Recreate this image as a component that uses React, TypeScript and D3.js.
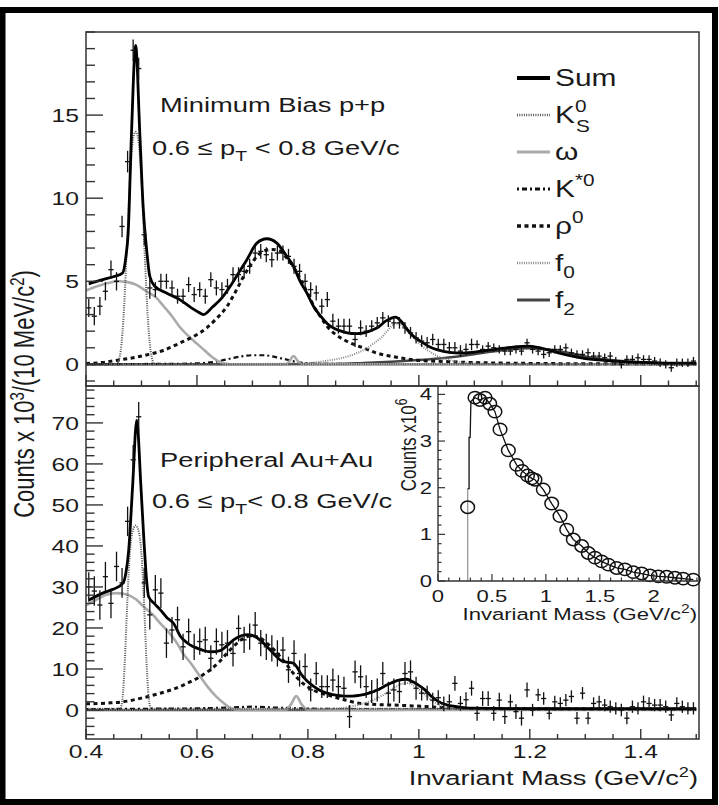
import React from 'react';
import * as d3 from 'd3';

// ---------- DATA ----------
const binStart = 0.4;
const binWidth = 0.01;

// Minimum bias p+p, counts x10^3 per 10 MeV bin (bin centres 0.405 ... 1.495)
const ppCounts = [
  3.4, 2.9, 3.5, 4.4, 5.7, 5.0, 8.3, 12.2, 18.9, 17.8,
  7.8, 4.6, 4.5, 5.0, 5.0, 4.6, 4.1, 4.1, 4.8, 4.2,
  4.5, 4.1, 5.1, 4.6, 4.5, 4.7, 5.4, 5.4, 5.6, 5.9,
  6.7, 6.8, 6.6, 6.3, 6.7, 6.7, 6.5, 5.9, 5.6, 5.0,
  4.5, 4.3, 3.5, 3.9, 2.6, 2.3, 2.3, 2.3, 1.5, 2.2,
  2.0, 2.3, 2.5, 2.8, 2.6, 2.5, 2.5, 2.2, 1.9, 1.6,
  1.4, 1.3, 1.5, 1.2, 1.2, 1.0, 1.0, 0.8, 0.9, 1.2,
  1.2, 0.9, 1.1, 1.0, 0.9, 0.8, 0.8, 0.9, 0.8, 1.3,
  0.9, 0.8, 0.6, 0.7, 0.9, 0.9, 1.0, 0.7, 0.6, 0.6,
  0.7, 0.5, 0.5, 0.4, 0.5, 0.2, 0.0, 0.3, 0.3, 0.4,
  0.3, 0.3, 0.2, 0.1, 0.0, -0.2, 0.1, 0.1, 0.1, 0.2,
];
// Peripheral Au+Au
const auCounts = [
  30.0, 29.0, 25.6, 32.5, 26.0, 35.0, 31.0, 46.0, 61.0, 71.5,
  31.0, 23.2, 29.3, 28.5, 16.3, 19.5, 22.0, 15.4, 19.1, 15.4,
  16.7, 17.1, 12.6, 16.7, 15.9, 16.3, 13.8, 19.9, 17.1, 17.9,
  20.7, 16.3, 15.4, 15.0, 13.8, 14.6, 9.8, 13.8, 8.9, 10.6,
  4.9, 8.9, 5.7, 5.7, 7.3, 5.7, 5.3, -1.6, 9.3, 8.1,
  5.7, 4.5, 4.9, 8.9, 4.1, 4.9, 4.5, 8.9, 9.3, 5.3,
  4.1, 4.1, 2.4, 3.0, 1.5, 2.0, 6.5, 1.6, 2.5, 5.3,
  -0.8, 2.8, 2.8, -0.8, 2.4, -1.6, 2.0, -0.4, -2.0, 4.9,
  0.0, 3.7, 2.8, -0.8, 2.0, 1.6, 2.4, 3.3, -2.0, 4.1,
  -2.0, 1.6, 2.0, 1.2, 0.8, 0.4, 0.0, -2.0, 0.8, 0.4,
  2.0, 1.6, 1.2, 1.2, 0.8, -1.2, 1.6, 0.8, 0.4, 0.4,
];
// [mass from which it applies, error]
const ppErrors = [[0.4, 0.55], [0.46, 0.65], [0.52, 0.45], [0.9, 0.35], [1.1, 0.25]];
const auErrors = [[0.4, 3.6], [0.55, 3.2], [0.8, 2.8], [1.0, 1.8], [1.2, 1.5]];

// fit components, p+p
const ppSum = [[0.405,4.85],[0.43,5.1],[0.452,5.3],[0.466,5.5],[0.472,6.5],[0.476,7.9],[0.482,13.9],[0.4895,19.2],[0.497,13.9],[0.503,9.5],[0.509,7.0],[0.515,5.3],[0.524,4.7],[0.545,4.3],[0.569,3.9],[0.59,3.4],[0.605,3.1],[0.612,3.0],[0.628,3.45],[0.645,4.0],[0.66,4.7],[0.675,5.5],[0.69,6.3],[0.708,7.3],[0.726,7.56],[0.744,7.3],[0.76,6.6],[0.774,5.9],[0.786,5.0],[0.798,4.3],[0.81,3.5],[0.823,2.9],[0.835,2.45],[0.847,2.18],[0.86,2.0],[0.871,1.9],[0.886,1.85],[0.901,1.9],[0.915,2.05],[0.925,2.2],[0.94,2.6],[0.958,2.85],[0.968,2.6],[0.979,2.1],[0.99,1.7],[1.004,1.37],[1.02,1.05],[1.034,0.87],[1.055,0.72],[1.076,0.68],[1.1,0.74],[1.13,0.87],[1.165,1.02],[1.197,1.1],[1.215,1.02],[1.233,0.87],[1.257,0.65],[1.281,0.47],[1.3,0.35],[1.324,0.27],[1.366,0.17],[1.414,0.11],[1.45,0.08],[1.5,0.07]];
const ppK0s = [[0.4,0],[0.455,0.02],[0.461,0.5],[0.467,2.5],[0.473,6.5],[0.479,11],[0.485,13.6],[0.4895,14],[0.494,13.6],[0.5,11],[0.506,6.5],[0.512,2.5],[0.518,0.5],[0.524,0.02],[1.5,0]];
const ppOmega = [[0.4,4.45],[0.42,4.7],[0.44,4.9],[0.458,5.0],[0.475,4.95],[0.49,4.8],[0.509,4.4],[0.527,4.0],[0.54,3.5],[0.555,2.9],[0.569,2.25],[0.585,1.7],[0.6,1.25],[0.615,0.8],[0.629,0.4],[0.641,0.15],[0.652,0.03],[0.66,0],[0.76,0],[0.766,0.15],[0.774,0.5],[0.782,0.2],[0.79,0],[1.5,0]];
const ppKstar = [[0.4,0.02],[0.55,0.03],[0.6,0.06],[0.64,0.2],[0.67,0.42],[0.7,0.55],[0.72,0.55],[0.75,0.38],[0.78,0.15],[0.81,0.05],[0.9,0.02],[1.5,0]];
const ppRho = [[0.4,0.05],[0.43,0.12],[0.46,0.27],[0.485,0.4],[0.509,0.57],[0.54,0.85],[0.569,1.28],[0.595,1.7],[0.617,2.18],[0.635,2.75],[0.654,3.48],[0.67,4.4],[0.684,5.29],[0.696,5.95],[0.708,6.49],[0.72,6.82],[0.735,6.92],[0.748,6.85],[0.762,6.4],[0.775,5.8],[0.787,5.09],[0.8,4.25],[0.811,3.48],[0.823,2.85],[0.835,2.28],[0.85,1.8],[0.865,1.48],[0.883,1.2],[0.901,0.98],[0.925,0.67],[0.945,0.52],[0.965,0.4],[0.99,0.27],[1.05,0.17],[1.1,0.11],[1.17,0.07],[1.3,0.04],[1.5,0.03]];
const ppF0 = [[0.4,0],[0.75,0],[0.8,0.08],[0.84,0.25],[0.871,0.47],[0.89,0.7],[0.907,0.98],[0.92,1.3],[0.932,1.6],[0.944,2.05],[0.956,2.42],[0.964,2.45],[0.974,2.2],[0.983,1.9],[0.992,1.55],[1.005,1.12],[1.022,0.72],[1.037,0.45],[1.052,0.3],[1.07,0.15],[1.09,0.07],[1.15,0.02],[1.5,0]];
const ppF2 = [[0.4,0],[0.85,0.02],[0.9,0.08],[0.95,0.16],[1.0,0.26],[1.05,0.4],[1.1,0.62],[1.15,0.86],[1.2,0.98],[1.25,0.82],[1.3,0.48],[1.35,0.24],[1.4,0.12],[1.45,0.07],[1.5,0.05]];

// fit components, Au+Au
const auSum = [[0.405,26.8],[0.43,28.5],[0.45,29.5],[0.467,31.0],[0.472,33.5],[0.477,39],[0.484,54.5],[0.4915,70.7],[0.499,54.5],[0.505,40],[0.509,32],[0.513,27.6],[0.523,26.0],[0.534,24.4],[0.546,22.5],[0.558,21.1],[0.57,18.0],[0.582,16.4],[0.594,15.4],[0.61,14.6],[0.624,14.2],[0.642,14.5],[0.655,15.8],[0.666,17.1],[0.68,18.1],[0.692,18.4],[0.705,17.9],[0.716,16.8],[0.728,15.2],[0.74,13.5],[0.752,12.0],[0.765,11.6],[0.774,11.4],[0.78,10.5],[0.787,8.9],[0.799,7.0],[0.811,5.7],[0.823,4.7],[0.835,4.1],[0.85,3.6],[0.865,3.4],[0.88,3.4],[0.895,3.6],[0.91,4.1],[0.925,4.9],[0.944,6.2],[0.962,7.2],[0.978,7.5],[0.99,6.8],[1.0,6.0],[1.011,4.9],[1.023,3.3],[1.035,2.1],[1.047,1.4],[1.059,1.0],[1.08,0.6],[1.1,0.45],[1.2,0.3],[1.5,0.3]];
const auK0s = [[0.4,0.3],[0.458,0.3],[0.462,0.4],[0.466,3],[0.47,12],[0.474,25],[0.478,36],[0.483,43],[0.4895,45],[0.496,43],[0.501,36],[0.505,25],[0.509,12],[0.513,3],[0.517,0.4],[0.522,0.3],[1.5,0.3]];
const auOmega = [[0.4,25.5],[0.42,27.0],[0.44,28.2],[0.455,28.5],[0.47,28.3],[0.49,27.0],[0.504,25.2],[0.52,23.3],[0.534,21.1],[0.55,18.8],[0.564,16.3],[0.575,13.8],[0.589,11.4],[0.604,8.5],[0.619,5.7],[0.634,3.4],[0.649,1.6],[0.66,0.5],[0.67,0.1],[0.68,0],[0.76,0],[0.77,1.5],[0.779,3.4],[0.788,1.5],[0.8,0],[1.5,0]];
const auKstar = [[0.4,0.2],[0.5,0.3],[0.6,0.4],[0.66,0.6],[0.7,0.8],[0.74,0.6],[0.8,0.35],[0.9,0.2],[1.0,0.15],[1.5,0.05]];
const auRho = [[0.4,1.5],[0.44,1.7],[0.467,2.0],[0.5,2.9],[0.534,4.1],[0.56,5.2],[0.582,6.5],[0.604,8.0],[0.624,9.8],[0.64,11.7],[0.654,13.8],[0.67,16.0],[0.684,17.5],[0.697,18.1],[0.71,17.8],[0.726,16.3],[0.738,14.8],[0.75,13.0],[0.762,11.0],[0.774,8.9],[0.786,7.1],[0.799,5.7],[0.817,4.4],[0.835,3.7],[0.865,2.5],[0.895,1.6],[0.93,1.3],[0.955,1.2],[0.99,1.0],[1.03,0.7],[1.07,0.45],[1.15,0.3],[1.5,0.2]];
const auF0 = [[0.4,0],[0.8,0],[0.85,0.3],[0.88,0.9],[0.91,2.0],[0.935,3.6],[0.955,5.4],[0.97,6.4],[0.98,6.6],[0.99,6.0],[1.0,5.0],[1.012,3.6],[1.025,2.2],[1.04,1.1],[1.06,0.4],[1.09,0.1],[1.15,0],[1.5,0]];
const auF2 = [[0.4,0],[0.9,0],[1.0,0.1],[1.1,0.25],[1.2,0.3],[1.3,0.2],[1.5,0.1]];

// inset: counts x10^6 vs invariant mass
const insetMass = [0.275,0.343,0.389,0.436,0.48,0.528,0.575,0.652,0.729,0.78,0.83,0.87,0.899,0.976,1.054,1.131,1.193,1.254,1.332,1.393,1.455,1.517,1.579,1.656,1.733,1.81,1.888,1.965,2.042,2.119,2.196,2.273,2.366];
const insetCounts = [1.58,3.93,3.88,3.93,3.8,3.63,3.25,2.8,2.49,2.36,2.26,2.2,2.17,1.96,1.66,1.39,1.1,0.89,0.75,0.6,0.5,0.42,0.35,0.28,0.25,0.19,0.16,0.12,0.1,0.09,0.07,0.05,0.03];
const insetEdge = [[0.275,1.98],[0.288,1.98],[0.288,3.08],[0.298,3.08],[0.305,3.85],[0.343,3.93]];

// ticks & labels
const xTicks = [0.4, 0.6, 0.8, 1.0, 1.2, 1.4];
const xTickLabels = ['0.4', '0.6', '0.8', '1', '1.2', '1.4'];
const ppYTicks = [0, 5, 10, 15];
const auYTicks = [0, 10, 20, 30, 40, 50, 60, 70];
const insetXTicks = [0, 0.5, 1, 1.5, 2];
const insetXLabels = ['0', '0.5', '1', '1.5', '2'];
const insetYTicks = [0, 1, 2, 3, 4];
const legendKeys = ['sum', 'k0s', 'omega', 'kstar', 'rho', 'f0', 'f2'];

// ---------- STYLE ----------
const FONT = "'Liberation Sans', Arial, Helvetica, sans-serif";
const SX = 1.3;
const STYLES: Record<string, any> = {
  sum: { stroke: '#000', strokeWidth: 2.8 },
  k0s: { stroke: '#555', strokeWidth: 2, strokeDasharray: '1 1.3' },
  omega: { stroke: '#aaa', strokeWidth: 2.6 },
  kstar: { stroke: '#111', strokeWidth: 2.2, strokeDasharray: '2 3 5 3' },
  rho: { stroke: '#111', strokeWidth: 3, strokeDasharray: '4 3.5' },
  f0: { stroke: '#888', strokeWidth: 2, strokeDasharray: '1 1.3' },
  f2: { stroke: '#444', strokeWidth: 2.6 },
};

function T({ x, y, size, anchor = 'start', rot = false, children }: any) {
  return (
    <text transform={`translate(${x},${y}) scale(${SX},1)${rot ? ' rotate(-90)' : ''}`}
      fontSize={size} textAnchor={anchor} fontFamily={FONT} fill="#1a1a1a">{children}</text>
  );
}

function errFor(m: number, ranges: number[][]) {
  let e = ranges[0][1];
  for (const r of ranges) if (m >= r[0] - 1e-9) e = r[1];
  return e;
}

export default function App() {
  const L = 86, R = 699, TOP = 32, MID = 386, BOT = 739;
  const x = d3.scaleLinear().domain([0.4, 1.505]).range([L, R]);
  const yT = d3.scaleLinear().domain([-1.3, 20]).range([MID, TOP]);
  const yB = d3.scaleLinear().domain([-7.07, 79]).range([BOT, MID]);
  const ix = d3.scaleLinear().domain([0, 2.41]).range([438, 698]);
  const iy = d3.scaleLinear().domain([0, 4.18]).range([581, 386]);

  const mk = (ys: any) => d3.line<number[]>().x(d => x(d[0])).y(d => ys(d[1])).curve(d3.curveMonotoneX);
  const lt = mk(yT), lb = mk(yB);

  const ppComps: [string, number[][]][] = [['f2', ppF2], ['kstar', ppKstar], ['omega', ppOmega], ['rho', ppRho], ['f0', ppF0], ['k0s', ppK0s], ['sum', ppSum]];
  const auComps: [string, number[][]][] = [['f2', auF2], ['kstar', auKstar], ['omega', auOmega], ['rho', auRho], ['f0', auF0], ['k0s', auK0s], ['sum', auSum]];

  const crosses = (vals: number[], errs: number[][], ys: any, key: string) =>
    vals.map((v, i) => {
      const m = binStart + binWidth * (i + 0.5);
      const e = errFor(m, errs);
      const cx = x(m);
      return (
        <g key={key + i} stroke="#111" strokeWidth={1.3}>
          <line x1={cx} x2={cx} y1={ys(v - e)} y2={ys(v + e)} />
          <line x1={cx - 2.6} x2={cx + 2.6} y1={ys(v)} y2={ys(v)} />
        </g>
      );
    });

  const xMinor = d3.range(0.4, 1.5001, 0.05);
  const ppMinor = d3.range(-1, 20.01, 1);
  const auMinor = d3.range(-6, 78.01, 2);
  const inXMinor = d3.range(0, 2.41, 0.1);
  const inYMinor = d3.range(0, 4.18, 0.2);

  const iline = d3.line<number[]>().x(d => ix(d[0])).y(d => iy(d[1]));
  const insetPts = insetMass.map((m, i) => [m, insetCounts[i]]);
  const insetPath = [...insetEdge, ...insetPts.slice(2)];

  const legY = (i: number) => 78 + i * 37;
  const legendText = (k: string) => {
    switch (k) {
      case 'sum': return <>Sum</>;
      case 'k0s': return <>K<tspan dy={-11} fontSize={16}>0</tspan><tspan dx={-8} dy={20} fontSize={16}>S</tspan></>;
      case 'omega': return <>ω</>;
      case 'kstar': return <>K<tspan dy={-11} fontSize={16}>*0</tspan></>;
      case 'rho': return <>ρ<tspan dy={-11} fontSize={16}>0</tspan></>;
      case 'f0': return <>f<tspan dy={7} fontSize={16}>0</tspan></>;
      case 'f2': return <>f<tspan dy={7} fontSize={16}>2</tspan></>;
    }
    return null;
  };

  const axisColor = '#333';
  return (
    <svg width={719} height={805} style={{ position: 'absolute', left: 0, top: 0, background: '#fff' }}>
      <defs>
        <clipPath id="cT"><rect x={L} y={TOP} width={R - L} height={MID - TOP} /></clipPath>
        <clipPath id="cB"><rect x={L} y={MID} width={R - L} height={BOT - MID} /></clipPath>
      </defs>
      <rect x={0} y={0} width={719} height={805} fill="#fff" />

      {/* top panel curves */}
      <g clipPath="url(#cT)" fill="none">
        {ppComps.map(([k, d]) => <path key={'pc' + k} d={lt(d) || ''} {...STYLES[k]} />)}
        {crosses(ppCounts, ppErrors, yT, 'pp')}
      </g>
      {/* bottom panel curves */}
      <g clipPath="url(#cB)" fill="none">
        {auComps.map(([k, d]) => <path key={'ac' + k} d={lb(d) || ''} {...STYLES[k]} />)}
        {crosses(auCounts, auErrors, yB, 'au')}
      </g>

      {/* frames */}
      <rect x={L} y={TOP} width={R - L} height={MID - TOP} fill="none" stroke={axisColor} strokeWidth={1.5} />
      <rect x={L} y={MID} width={R - L} height={BOT - MID} fill="none" stroke={axisColor} strokeWidth={1.5} />

      {/* x ticks */}
      <g stroke={axisColor} strokeWidth={1.4}>
        {xMinor.map((t, i) => {
          const major = xTicks.some(v => Math.abs(v - t) < 1e-6);
          return (
            <g key={'xt' + i}>
              <line x1={x(t)} x2={x(t)} y1={MID} y2={MID - (major ? 11 : 5.5)} />
              <line x1={x(t)} x2={x(t)} y1={BOT} y2={BOT - (major ? 10 : 5)} />
            </g>
          );
        })}
        {ppMinor.map((t, i) => {
          const major = ppYTicks.includes(Math.round(t * 100) / 100);
          return <line key={'pt' + i} x1={L} x2={L + (major ? 17 : 9)} y1={yT(t)} y2={yT(t)} />;
        })}
        {auMinor.map((t, i) => {
          const major = auYTicks.includes(Math.round(t));
          return <line key={'at' + i} x1={L} x2={L + (major ? 17 : 8.5)} y1={yB(t)} y2={yB(t)} />;
        })}
      </g>

      {/* tick labels */}
      {xTicks.map((t, i) => <T key={'xl' + i} x={x(t)} y={758} size={19} anchor="middle">{xTickLabels[i]}</T>)}
      {ppYTicks.map(t => <T key={'pl' + t} x={79} y={yT(t) + 7} size={19} anchor="end">{t}</T>)}
      {auYTicks.map(t => <T key={'al' + t} x={79} y={yB(t) + 7} size={19} anchor="end">{t}</T>)}

      {/* axis titles */}
      <T x={698} y={785} size={21} anchor="end">Invariant Mass (GeV/c<tspan dy={-8} fontSize={14}>2</tspan><tspan dy={8}>)</tspan></T>
      <T x={34} y={394} size={22} anchor="middle" rot>Counts x 10<tspan dy={-8} fontSize={15}>3</tspan><tspan dy={8}>/(10 MeV/c</tspan><tspan dy={-8} fontSize={15}>2</tspan><tspan dy={8}>)</tspan></T>

      {/* panel labels */}
      <T x={160} y={112} size={21}>Minimum Bias p+p</T>
      <T x={152} y={155} size={21}>0.6 ≤ p<tspan dy={6} fontSize={15}>T</tspan><tspan dy={-6}> &lt; 0.8 GeV/c</tspan></T>
      <T x={160} y={467} size={21}>Peripheral Au+Au</T>
      <T x={152} y={508} size={21}>0.6 ≤ p<tspan dy={6} fontSize={15}>T</tspan><tspan dy={-6}>&lt; 0.8 GeV/c</tspan></T>

      {/* legend */}
      {legendKeys.map((k, i) => (
        <g key={'lg' + k}>
          <line x1={517} x2={550} y1={legY(i)} y2={legY(i)} {...STYLES[k]} strokeWidth={k === 'sum' ? 4 : STYLES[k].strokeWidth + 0.6} />
          <T x={555} y={legY(i) + 8} size={23}>{legendText(k)}</T>
        </g>
      ))}

      {/* inset */}
      <g>
        <line x1={ix(0.275)} x2={ix(0.275)} y1={iy(0)} y2={iy(1.98)} stroke="#999" strokeWidth={1.3} />
        <path d={iline(insetPath) || ''} fill="none" stroke="#111" strokeWidth={1.3} />
        {insetPts.map((p, i) => (
          <ellipse key={'ic' + i} cx={ix(p[0])} cy={iy(p[1])} rx={6.8} ry={6.2} fill="none" stroke="#111" strokeWidth={1.5} />
        ))}
        <line x1={438} x2={438} y1={386} y2={581} stroke={axisColor} strokeWidth={1.4} />
        <line x1={438} x2={698} y1={581} y2={581} stroke={axisColor} strokeWidth={1.4} />
        <g stroke={axisColor} strokeWidth={1.2}>
          {inXMinor.map((t, i) => {
            const major = insetXTicks.some(v => Math.abs(v - t) < 1e-6);
            return <line key={'ixt' + i} x1={ix(t)} x2={ix(t)} y1={581} y2={581 - (major ? 7 : 3.5)} />;
          })}
          {inYMinor.map((t, i) => {
            const major = insetYTicks.some(v => Math.abs(v - t) < 1e-6);
            return <line key={'iyt' + i} x1={438} x2={438 + (major ? 7 : 3.5)} y1={iy(t)} y2={iy(t)} />;
          })}
        </g>
        {insetXTicks.map((t, i) => <T key={'ixl' + i} x={ix(t)} y={602} size={17} anchor="middle">{insetXLabels[i]}</T>)}
        {insetYTicks.map(t => <T key={'iyl' + t} x={432} y={iy(t) + 6} size={17} anchor="end">{t}</T>)}
        <T x={697} y={620} size={17} anchor="end">Invariant Mass (GeV/c<tspan dy={-7} fontSize={12}>2</tspan><tspan dy={7}>)</tspan></T>
        <T x={416} y={445} size={17} anchor="middle" rot>Counts x10<tspan dy={-7} fontSize={12}>6</tspan></T>
      </g>

      {/* outer frame */}
      <rect x={2.5} y={10} width={712.5} height={792} fill="none" stroke="#000" strokeWidth={6} />
    </svg>
  );
}
